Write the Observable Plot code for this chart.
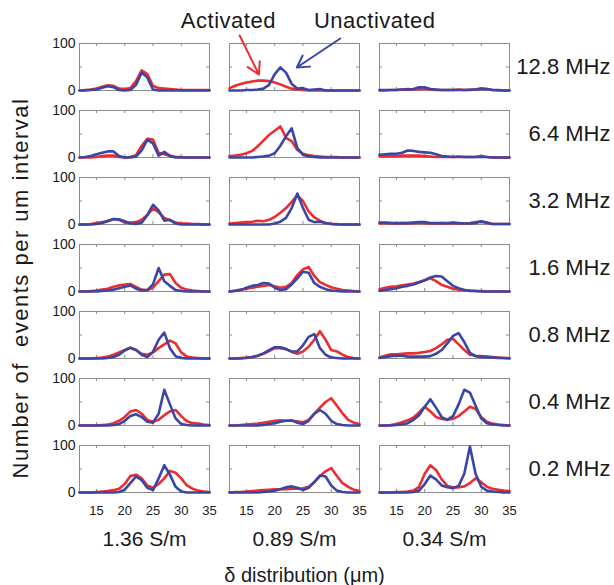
<!DOCTYPE html>
<html><head><meta charset="utf-8">
<script src="https://cdn.jsdelivr.net/npm/d3@7"></script>
<script src="https://cdn.jsdelivr.net/npm/@observablehq/plot@0.6"></script>
<style>body{margin:0;background:#fff}#chart svg{display:block}</style>
</head><body><div id="chart"></div>
<script>
const conductivities = ["1.36 S/m", "0.89 S/m", "0.34 S/m"];
const frequencies = ["12.8 MHz", "6.4 MHz", "3.2 MHz", "1.6 MHz", "0.8 MHz", "0.4 MHz", "0.2 MHz"];
const seriesNames = ["Activated", "Unactivated"];
const deltaUm = [12,13,14,15,16,17,18,19,20,21,22,23,24,25,26,27,28,29,30,31,32,33,34,35];
const xTickLabels = [15, 20, 25, 30, 35];
const xInnerTicks = [15, 20, 25, 30];
const yTickLabels = [0, 100];
const yInnerTicks = [50];
const yTitle = "Number of\u00a0 events per um interval";
const xTitle = "δ distribution (μm)";

// Activated (red): one list per frequency row, values per um
const activated136 = [
  [0,1,2,4,8,11,10,4,3,5,20,43,35,10,5,4,3,2,1,1,1,1,1,1],
  [0,0,0,1,3,4,4,1,0,1,5,25,40,38,10,7,4,1,1,0,0,0,0,0],
  [0,0,1,3,5,8,12,10,4,4,5,10,20,34,26,14,9,4,2,2,1,1,0,0],
  [0,0,1,2,4,6,10,13,15,16,10,4,3,8,22,36,37,18,8,4,2,1,0,0],
  [0,0,0,1,2,4,8,13,18,23,18,10,8,13,22,30,38,32,13,4,2,1,0,0],
  [0,0,0,0,1,2,5,10,18,30,33,25,12,8,12,22,30,33,20,9,5,4,2,1],
  [0,0,0,1,2,3,5,8,18,35,38,30,15,10,18,30,46,42,30,15,8,4,2,1]
];
const activated089 = [
  [5,10,14,17,19,21,21,20,17,13,8,4,2,1,0,0,0,0,0,0,0,0,0,0],
  [3,4,6,9,14,24,36,48,57,66,42,35,16,8,5,3,2,1,1,1,0,0,0,0],
  [2,3,4,5,6,8,7,10,16,25,35,48,62,50,28,15,8,3,1,1,0,0,0,0],
  [0,2,4,6,8,10,12,14,11,8,10,18,35,47,52,33,20,14,9,6,3,2,1,0],
  [0,0,1,2,3,6,10,16,22,22,20,14,10,15,25,40,58,40,18,15,8,3,1,0],
  [0,0,1,2,3,4,6,8,10,11,10,10,9,7,12,25,38,50,58,42,26,12,6,3],
  [0,1,1,2,3,4,5,6,7,7,7,8,8,9,12,22,35,45,52,35,20,12,6,3]
];
const activated034 = [
  [0,0,1,1,2,3,2,3,4,2,1,1,1,1,2,1,2,2,4,3,1,0,0,0],
  [3,3,3,3,4,4,4,4,3,2,1,1,1,1,1,1,1,1,3,1,0,0,0,0],
  [2,3,3,2,3,3,3,4,3,2,2,3,2,3,2,2,3,5,6,3,1,1,1,1],
  [5,8,10,11,13,15,17,20,24,28,22,14,10,6,4,3,2,1,1,0,0,0,0,0],
  [2,6,9,9,10,11,11,12,14,16,22,30,40,42,30,18,8,6,5,4,3,2,1,1],
  [0,0,1,3,7,11,17,28,40,30,18,14,13,14,20,30,40,35,18,8,4,2,1,0],
  [0,0,0,1,1,2,4,12,40,58,48,28,14,11,11,13,20,30,22,12,8,6,4,3]
];
// Unactivated (blue)
const unactivated136 = [
  [0,0,1,2,6,9,7,1,0,1,12,38,28,2,0,0,0,0,0,0,0,0,0,0],
  [0,1,3,7,10,13,13,3,0,0,2,15,38,30,4,12,3,0,0,0,0,0,0,0],
  [0,0,0,1,3,7,11,11,7,2,1,4,20,42,30,8,10,2,0,0,0,0,0,0],
  [0,0,0,0,1,2,4,7,10,13,6,2,3,15,50,22,12,3,1,0,0,0,0,0],
  [0,0,0,0,0,1,3,8,17,23,18,8,3,14,40,55,22,5,1,0,0,0,0,0],
  [0,0,0,0,0,0,1,3,10,20,24,18,8,6,25,76,45,15,3,1,0,0,0,0],
  [0,0,0,0,0,0,0,1,6,20,34,26,10,5,30,58,38,12,2,0,0,0,0,0]
];
const unactivated089 = [
  [0,0,0,1,1,2,4,12,35,49,38,14,4,5,1,2,3,0,0,0,0,0,0,0],
  [0,0,0,0,0,1,2,4,9,25,45,62,20,6,2,1,0,0,0,0,0,0,0,0],
  [0,0,0,0,0,0,0,0,2,6,14,35,66,35,10,5,6,3,1,0,0,0,0,0],
  [0,1,3,8,12,14,18,17,8,3,5,15,28,42,40,18,10,5,2,1,0,0,0,0],
  [0,0,0,1,3,6,11,18,24,24,20,15,15,28,46,52,22,8,2,1,0,0,0,0],
  [0,0,0,0,0,0,1,3,5,8,10,11,6,3,10,25,33,25,10,3,1,0,0,0],
  [0,0,0,0,0,0,1,2,4,7,11,13,10,5,10,22,36,34,15,4,1,0,0,0]
];
const unactivated034 = [
  [1,1,1,1,2,2,3,7,7,3,2,1,1,1,1,1,1,2,4,3,1,1,0,0],
  [6,7,8,8,10,15,14,12,11,10,7,3,2,1,2,1,1,1,1,1,0,0,0,0],
  [4,4,3,3,3,3,4,5,5,3,3,3,3,4,3,2,2,3,7,4,1,1,1,1],
  [1,3,5,7,10,12,15,19,24,30,33,32,22,12,7,3,1,1,0,0,0,0,0,0],
  [1,3,5,6,6,4,4,4,4,5,10,18,32,48,54,35,12,5,3,3,2,1,1,0],
  [0,0,0,1,2,5,12,22,40,56,38,18,12,20,45,76,70,42,15,5,2,1,0,0],
  [0,0,0,0,0,0,1,4,18,36,28,15,11,9,14,40,98,40,12,4,2,1,0,0]
];

const activatedByCond = [activated136, activated089, activated034];
const unactivatedByCond = [unactivated136, unactivated089, unactivated034];

const rows = [];
conductivities.forEach((cond, ci) => {
  frequencies.forEach((freq, fi) => {
    [[seriesNames[0], activatedByCond[ci][fi]], [seriesNames[1], unactivatedByCond[ci][fi]]].forEach(([series, vals]) => {
      vals.forEach((v, i) => rows.push({cond, freq, series, delta: deltaUm[i], count: v}));
    });
  });
});

const lastFreq = frequencies[frequencies.length - 1];
const gray = "#8c8c8c";

const chart = Plot.plot({
  width: 614,
  height: 585,
  marginLeft: 79,
  marginRight: 105,
  marginTop: 43,
  marginBottom: 93,
  style: {fontFamily: '"Liberation Sans", Arial, sans-serif', color: "#1a1a1a", background: "white", overflow: "visible"},
  fx: {domain: conductivities, paddingInner: 20 / 150, paddingOuter: 0, axis: null, label: null},
  fy: {domain: frequencies, paddingInner: 20 / 67, paddingOuter: 0, axis: null, label: null},
  x: {domain: [12, 35], axis: null},
  y: {domain: [0, 100], axis: null},
  color: {domain: seriesNames, range: ["#ec2d2f", "#3a46a6"]},
  marks: [
    Plot.frame({stroke: gray}),
    Plot.tickX(xInnerTicks, {x: d => d, insetTop: 44, stroke: gray}),
    Plot.tickX(xInnerTicks, {x: d => d, insetBottom: 44, stroke: gray}),
    Plot.tickY(yInnerTicks, {y: d => d, insetRight: 127, stroke: gray}),
    Plot.tickY(yInnerTicks, {y: d => d, insetLeft: 127, stroke: gray}),
    Plot.line(rows, {x: "delta", y: "count", z: "series", stroke: "series", fx: "cond", fy: "freq", strokeWidth: 2.6}),
    Plot.axisX(xTickLabels, {anchor: "bottom", tickSize: 0, tickPadding: 13, fontSize: 13, label: null}),
    Plot.axisY(yTickLabels, {anchor: "left", tickSize: 0, tickPadding: 4, fontSize: 14, label: null}),
    Plot.text(frequencies, {fx: () => conductivities[2], fy: d => d, text: d => d, frameAnchor: "right", textAnchor: "end", dx: 101, fontSize: 22}),
    Plot.text(conductivities, {fx: d => d, fy: () => lastFreq, text: d => d, frameAnchor: "bottom", lineAnchor: "middle", dy: 47, fontSize: 21}),
    Plot.text([xTitle], {fx: () => conductivities[1], fy: () => lastFreq, text: d => d, frameAnchor: "bottom", lineAnchor: "middle", dy: 83, dx: 10, fontSize: 20}),
    Plot.text([yTitle], {fx: () => conductivities[0], fy: () => frequencies[3], text: d => d, frameAnchor: "left", textAnchor: "middle", rotate: -90, dx: -59, dy: 20, fontSize: 22}),
    Plot.arrow(seriesNames, {fx: () => conductivities[1], fy: () => frequencies[0], x1: [13.8, 31.6], y1: [117, 110.6], x2: [17.2, 23.9], y2: [34, 49], stroke: d => d, strokeWidth: 2, headLength: 10}),
    Plot.text(seriesNames, {fx: () => conductivities[1], fy: () => frequencies[0], x: [11.8, 37.7], y: [147, 147], text: d => d, fontSize: 22})
  ]
});
d3.select(chart).selectAll("text").filter(function () { return this.textContent === yTitle; }).style("letter-spacing", "1.5px");
d3.select(chart).selectAll("text").filter(function () { return seriesNames.includes(this.textContent); }).style("letter-spacing", "0.5px");
document.getElementById("chart").append(chart);
</script>
</body></html>
